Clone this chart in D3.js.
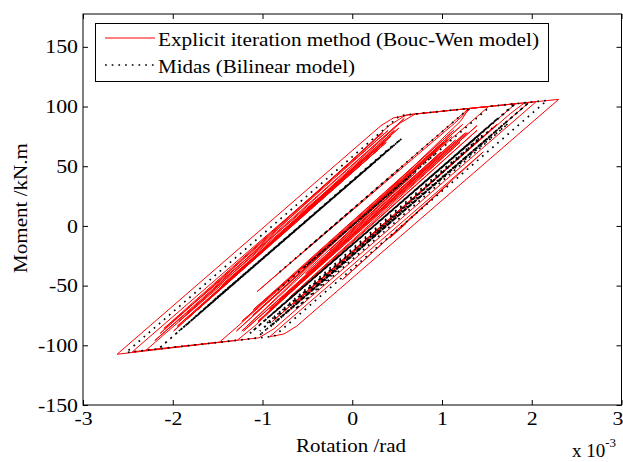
<!DOCTYPE html>
<html>
<head>
<meta charset="utf-8">
<script src="https://cdn.jsdelivr.net/npm/d3@7"></script>
<style>
  html, body { margin: 0; padding: 0; background: #fff; }
  svg { display: block; }
  text { font-family: "Liberation Serif", "Times New Roman", serif; fill: #000; }
</style>
</head>
<body>
<svg id="chart" width="623" height="462"></svg>
<script>
// Moment-rotation hysteresis of the plastic hinge (rotation in 1e-3 rad, moment in kN.m)

// Bouc-Wen model, explicit iteration: turning and knee points of the response path
const bwRotation = [
  0.00, 0.38, -0.25, 0.71, -0.52, 0.99, -0.81, 1.26, -1.05, 1.06,
  -1.23, 1.21, 1.30, -1.06, 1.14, 1.32, 1.52, -1.10, 1.13, -1.23,
  1.23, -1.11, 1.11, -1.29, 1.02, -1.29, -1.48, -2.30,
  0.38, -1.84, 0.18, -1.58, 0.47, -1.45, 0.43, -1.99, 0.52, -1.95,
  0.32, -1.72, 0.53, 0.70, 1.82,
  -0.83, 1.39, -0.70, 1.20, -1.05, 1.39, -0.92, 1.28, -1.21, 1.15,
  -1.09, -1.28, -2.45,
  0.40, -2.14, 0.34, -2.10, 0.36, -2.20, 0.58, -1.93, 0.41, 0.60, 1.97,
  -0.77, 1.61, -0.66, 1.38, -0.89, 1.76, 1.92, 2.05,
  -0.87, -1.04, -2.62,
  0.32, 0.46, 0.67, 2.30,
  -0.62, -0.76, -0.92, 1.46, -0.11, 1.07, 0.42, 0.60
];
const bwMoment = [
  0, 25, -20, 45, -40, 62, -62, 78, -80, 72,
  -88, 88, 98.4, -55, 86, 98.5, 100.0, -70, 80, -80,
  85, -75, 75, -88, 70, -85, -97.4, -104.2,
  70, -78, 60, -60, 80, -50, 75, -88, 82, -84,
  66, -70, 86, 93.7, 102.4,
  -70, 80, -60, 70, -80, 84, -70, 78, -88, 72,
  -84, -95.7, -105.4,
  80, -90, 78, -86, 70, -96, 90, -80, 84, 93.0, 103.5,
  -75, 85, -66, 70, -80, 94, 103.1, 104.1,
  -86, -93.7, -107.5,
  84, 90.5, 93.5, 106.0,
  -84, -90.5, -92.8, 62, -45, 35, -10, 2
];

// Midas bilinear model: turning and yield points of the response path
const midasRotation = [
  0.00, 0.62, -0.54, 0.92, -0.85, 1.54, 1.82,
  -1.11, 1.47, -0.84, 1.32, -1.14, 1.55, -0.68, 1.40, -0.99, 1.62, -0.91,
  1.81, 1.97,
  -0.85, 1.73, -1.04, 1.53, -0.62, 1.61, -0.92, 1.46, -0.77,
  1.56, -1.03, 1.74, -0.64, 1.45, -0.96, 1.54, -0.88,
  1.97, 2.17, -0.87, -2.16,
  0.55, -1.96, 0.41, -1.75, 0.53, -1.88, 0.26, -1.66, 0.46, -1.93,
  0.55, -1.54, 0.35, -2.16, -2.52,
  0.53, 0.67, 1.30, -0.83, 0.56, -0.52, 0.00
];
const midasMoment = [
  0, 40, -35, 60, -55, 100.2, 102.4,
  -88, 80, -70, 70, -90, 85, -60, 75, -80, 90, -75,
  102.3, 103.5,
  -80, 88, -92, 75, -65, 80, -85, 70, -75,
  82, -88, 86, -70, 76, -82, 75, -82,
  103.5, 105.1, -92.4, -103.0,
  73, -90, 64, -76, 72, -85, 54, -70, 68, -88,
  73, -62, 60, -103.0, -106.0,
  92.4, 93.5, 98.4, -40, 50, -20, 13.7
];

const xTicks = [-3, -2, -1, 0, 1, 2, 3];
const yTicks = [-150, -100, -50, 0, 50, 100, 150];
const legendLabels = ["Explicit iteration method (Bouc-Wen model)", "Midas (Bilinear model)"];
const xLabel = "Rotation /rad";
const yLabel = "Moment /kN.m";

const svg = d3.select("#chart");
const plot = { left: 83, right: 621.5, top: 14, bottom: 405 };

const x = d3.scaleLinear().domain([-3, 3]).range([plot.left, plot.right]);
const y = d3.scaleLinear().domain([-150, 177.5]).range([plot.bottom, plot.top]);

svg.append("defs").append("clipPath").attr("id", "plotClip")
  .append("rect")
  .attr("x", plot.left).attr("y", plot.top)
  .attr("width", plot.right - plot.left).attr("height", plot.bottom - plot.top);

const line = d3.line().x(d => x(d[0])).y(d => y(d[1]));
const bwPath = d3.zip(bwRotation, bwMoment);
const midasPath = d3.zip(midasRotation, midasMoment);

const marks = svg.append("g").attr("clip-path", "url(#plotClip)");

marks.append("path")
  .datum(bwPath)
  .attr("d", line)
  .attr("fill", "none")
  .attr("stroke", "#ff0000")
  .attr("stroke-width", 1)
  .attr("stroke-linejoin", "round");

marks.append("path")
  .datum(midasPath)
  .attr("d", line)
  .attr("fill", "none")
  .attr("stroke", "#000")
  .attr("stroke-width", 1.7)
  .attr("stroke-dasharray", "1.7 5");

// The serif face used here runs a little narrow, so stretch glyphs horizontally
const widen = (sel, factor) => sel.each(function () {
  const w = this.getComputedTextLength();
  d3.select(this).attr("textLength", w * factor).attr("lengthAdjust", "spacingAndGlyphs");
});

// Axes with inward ticks on all four sides
const fmt = d => String(d);
const styleAxis = g => {
  g.select(".domain").remove();
  g.selectAll(".tick line").attr("stroke", "#000");
  g.selectAll("text").attr("font-size", 19).attr("fill", "#000")
    .attr("font-family", "'Liberation Serif', 'Times New Roman', serif");
};

const xAxisG = svg.append("g")
  .attr("transform", `translate(0,${plot.bottom})`)
  .call(d3.axisBottom(x).tickValues(xTicks).tickFormat(fmt).tickSizeInner(-5).tickSizeOuter(0).tickPadding(7))
  .call(styleAxis);
widen(xAxisG.selectAll("text"), 1.15);
xAxisG.selectAll(".tick text").filter(d => d === 3).attr("dx", -4);

svg.append("g")
  .attr("transform", `translate(0,${plot.top})`)
  .call(d3.axisTop(x).tickValues(xTicks).tickFormat("").tickSizeInner(-5).tickSizeOuter(0))
  .call(styleAxis);

const yAxisG = svg.append("g")
  .attr("transform", `translate(${plot.left},0)`)
  .call(d3.axisLeft(y).tickValues(yTicks).tickFormat(fmt).tickSizeInner(-5).tickSizeOuter(0).tickPadding(5))
  .call(styleAxis);
widen(yAxisG.selectAll("text"), 1.15);

svg.append("g")
  .attr("transform", `translate(${plot.right},0)`)
  .call(d3.axisRight(y).tickValues(yTicks).tickFormat("").tickSizeInner(-5).tickSizeOuter(0))
  .call(styleAxis);

svg.append("rect")
  .attr("x", plot.left).attr("y", plot.top)
  .attr("width", plot.right - plot.left).attr("height", plot.bottom - plot.top)
  .attr("fill", "none").attr("stroke", "#000").attr("stroke-width", 1);

// Axis titles and exponent
svg.append("text")
  .attr("x", 351).attr("y", 452)
  .attr("text-anchor", "middle").attr("font-size", 19)
  .attr("textLength", 110).attr("lengthAdjust", "spacingAndGlyphs")
  .text(xLabel);

svg.append("text")
  .attr("transform", "translate(27,208) rotate(-90)")
  .attr("text-anchor", "middle").attr("font-size", 19)
  .attr("textLength", 130).attr("lengthAdjust", "spacingAndGlyphs")
  .text(yLabel);

const expo = svg.append("text").attr("x", 572).attr("y", 457).attr("font-size", 19);
expo.append("tspan").text("x 10");
expo.append("tspan").attr("font-size", 13).attr("dy", -10).text("-3");

// Legend
const legend = svg.append("g");
legend.append("rect")
  .attr("x", 95.5).attr("y", 23.5).attr("width", 453).attr("height", 58)
  .attr("fill", "#fff").attr("stroke", "#000").attr("stroke-width", 1);

legend.append("line")
  .attr("x1", 105).attr("x2", 155).attr("y1", 38).attr("y2", 38)
  .attr("stroke", "#ff0000").attr("stroke-width", 1);
legend.append("line")
  .attr("x1", 105).attr("x2", 155).attr("y1", 65).attr("y2", 65)
  .attr("stroke", "#000").attr("stroke-width", 1.7).attr("stroke-dasharray", "1.7 5");

legend.append("text")
  .attr("x", 158).attr("y", 45.5).attr("font-size", 19)
  .attr("textLength", 381).attr("lengthAdjust", "spacingAndGlyphs")
  .text(legendLabels[0]);
legend.append("text")
  .attr("x", 158).attr("y", 73).attr("font-size", 19)
  .attr("textLength", 197).attr("lengthAdjust", "spacingAndGlyphs")
  .text(legendLabels[1]);
</script>
</body>
</html>
